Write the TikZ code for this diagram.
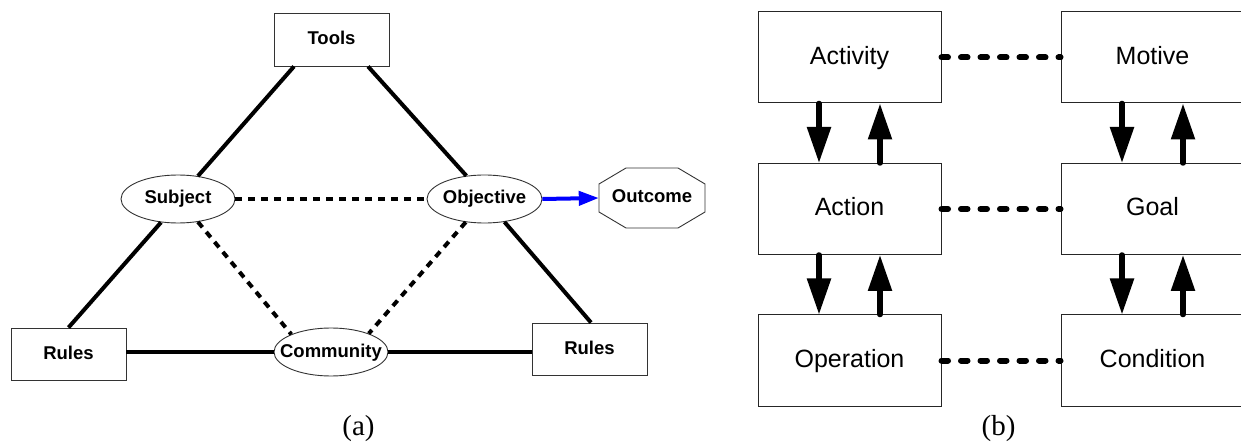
\documentclass[tikz,border=0pt]{standalone}
\usepackage{fontspec}
\setmainfont{Liberation Sans}
\newfontfamily\timesfont{Liberation Serif}
\usetikzlibrary{arrows.meta,shapes.geometric,calc}
\begin{document}
\begin{tikzpicture}[x=1pt,y=-1pt,
  afont/.style={font=\fontsize{18.5}{20}\selectfont\bfseries, text height=13.5pt, text depth=3.5pt},
  abox/.style={draw=black!80, line width=0.9pt, minimum width=115pt, minimum height=53pt, inner sep=0pt, afont},
  aell/.style={ellipse, draw=black!80, line width=0.9pt, minimum width=114pt, minimum height=48pt, inner xsep=-20pt, inner ysep=0pt, afont},
  solidlink/.style={line width=4pt},
  dashlink/.style={line width=4pt, dash pattern=on 7pt off 6pt},
  bbox/.style={draw=black!85, line width=1pt, minimum width=183pt, minimum height=91pt, inner sep=0pt, font=\fontsize{25}{28}\selectfont, text height=18pt, text depth=4pt},
  vlink/.style={line width=5.5pt, line cap=round, -{Triangle[length=36pt,width=23pt]}},
  dotlink/.style={line width=6pt, line cap=round, dash pattern=on 6.5pt off 13pt},
  caplabel/.style={font=\timesfont\fontsize{29}{32}\selectfont}
]
\useasboundingbox (0,0) rectangle (1241,443);

% ---------- (a) ----------
\node[abox] (tools) at (331.5,39.5) {Tools};
\node[aell] (subj) at (178,199) {Subject};
\node[aell, minimum width=115pt] (obj) at (484.5,199) {Objective};
\node[aell] (comm) at (331,352) {Community};
\node[abox, minimum height=52pt] (rulesL) at (68.5,354) {Rules};
\node[abox, minimum height=52pt] (rulesR) at (589.5,349) {Rules};
\node[afont, minimum width=106pt, minimum height=60pt, inner sep=0pt] (out) at (652,198) {Outcome};
\draw[draw=black!80, line width=0.9pt]
  ([shift={(-26,-30)}]out.center) -- ([shift={(26,-30)}]out.center)
  -- ([shift={(53,-14)}]out.center) -- ([shift={(53,14)}]out.center)
  -- ([shift={(26,30)}]out.center) -- ([shift={(-26,30)}]out.center)
  -- ([shift={(-53,14)}]out.center) -- ([shift={(-53,-14)}]out.center) -- cycle;

\draw[solidlink] ([xshift=-37.5pt]tools.south) -- (subj.49);
\draw[solidlink] ([xshift=36.5pt]tools.south) -- (obj.128.5);
\draw[solidlink] (subj.234) -- (rulesL.north);
\draw[solidlink] (obj.311) -- ([xshift=1.5pt]rulesR.north);
\draw[solidlink] (rulesL.east |- comm.west) -- (comm.west);
\draw[solidlink] (comm.east) -- (rulesR.west |- comm.east);

\draw[dashlink] (subj.east) -- (obj.west);
\draw[dashlink] (subj.311) -- (comm.156);
\draw[dashlink] (obj.231.5) -- (comm.26);

\draw[blue, line width=4pt, -{Triangle[length=20pt,width=14pt]}] (obj.east) -- (out.west);

\node[caplabel] (capa) at (358.5,429) {(a)};

% ---------- (b) ----------
\node[bbox] (act) at (849.5,57.5) {Activity};
\node[bbox] (acn) at (849.5,209) {Action};
\node[bbox] (opr) at (849.5,360.5) {Operation};
\node[bbox] (mot) at (1152.5,57.5) {Motive};
\node[bbox] (goal) at (1152.5,209) {Goal};
\node[bbox] (cond) at (1152.5,360.5) {Condition};

\draw[dotlink] (act.east) -- (mot.west);
\draw[dotlink] (acn.east) -- (goal.west);
\draw[dotlink] (opr.east) -- (cond.west);

\draw[vlink] ([xshift=-30.5pt]act.south) -- ([xshift=-30.5pt]acn.north);
\draw[vlink] ([xshift=30.5pt]acn.north) -- ([xshift=30.5pt]act.south);
\draw[vlink] ([xshift=-30.5pt]acn.south) -- ([xshift=-30.5pt]opr.north);
\draw[vlink] ([xshift=30.5pt]opr.north) -- ([xshift=30.5pt]acn.south);
\draw[vlink] ([xshift=-30.5pt]mot.south) -- ([xshift=-30.5pt]goal.north);
\draw[vlink] ([xshift=30.5pt]goal.north) -- ([xshift=30.5pt]mot.south);
\draw[vlink] ([xshift=-30.5pt]goal.south) -- ([xshift=-30.5pt]cond.north);
\draw[vlink] ([xshift=30.5pt]cond.north) -- ([xshift=30.5pt]goal.south);

\node[caplabel] (capb) at (998.5,429) {(b)};
\end{tikzpicture}
\end{document}
